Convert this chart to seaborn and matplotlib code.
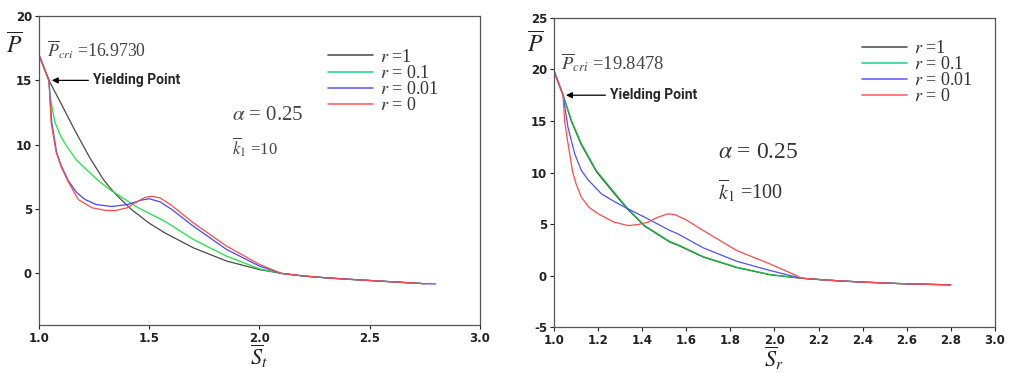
import numpy as np
import pandas as pd
import matplotlib.pyplot as plt
import seaborn as sns

# ── data ──────────────────────────────────────────────────────────
# left panel: alpha = 0.25, k1 = 10
head_l = [(1.0, 16.97), (1.045, 15.0)]
tail_l = [(2.1, 0.0), (2.2, -0.2), (2.3, -0.34), (2.4, -0.45), (2.5, -0.55),
          (2.6, -0.65), (2.7, -0.75), (2.75, -0.8)]
black_l = [(1.10, 13.2), (1.163, 11.1), (1.23, 9.0), (1.292, 7.3), (1.32, 6.7),
           (1.345, 6.2), (1.42, 4.96), (1.5, 3.9), (1.571, 3.15), (1.70, 1.99),
           (1.851, 0.96), (2.0, 0.3)]
green_l = [(1.05, 13.7), (1.073, 11.7), (1.10, 10.6), (1.126, 9.87), (1.17, 8.8),
           (1.216, 8.06), (1.27, 7.2), (1.322, 6.5), (1.345, 6.25), (1.45, 5.1),
           (1.549, 4.24), (1.571, 4.05), (1.70, 2.64), (1.851, 1.34), (2.0, 0.36)]
blue_l = [(1.058, 11.7), (1.08, 9.4), (1.10, 8.4), (1.133, 7.2), (1.17, 6.3),
          (1.209, 5.74), (1.26, 5.35), (1.33, 5.2), (1.40, 5.35), (1.466, 5.7),
          (1.50, 5.8), (1.549, 5.56), (1.60, 5.0), (1.70, 3.67), (1.851, 1.86),
          (2.0, 0.57)]
red_l = [(1.055, 11.7), (1.078, 9.4), (1.10, 8.3), (1.13, 7.2), (1.178, 5.74),
         (1.24, 5.1), (1.30, 4.9), (1.345, 4.88), (1.40, 5.1), (1.435, 5.48),
         (1.48, 5.9), (1.511, 6.0), (1.549, 5.87), (1.60, 5.3), (1.70, 3.93),
         (1.851, 2.12), (2.0, 0.70), (2.085, 0.1)]
blue_l_end = [(2.8, -0.82)]

# right panel: alpha = 0.25, k1 = 100
head_r = [(1.0, 19.85), (1.041, 17.5)]
tail_r = [(2.12, -0.25), (2.2, -0.38), (2.3, -0.52), (2.4, -0.63), (2.5, -0.72),
          (2.6, -0.8), (2.7, -0.85), (2.8, -0.9)]
black_r = [(1.08, 14.9), (1.124, 12.7), (1.192, 10.1), (1.222, 9.3), (1.28, 7.8),
           (1.336, 6.4), (1.411, 4.8), (1.526, 3.25), (1.562, 2.95), (1.677, 1.8),
           (1.829, 0.78), (1.98, 0.08)]
green_r = [(1.08, 15.0), (1.124, 12.8), (1.192, 10.2), (1.222, 9.4), (1.28, 7.9),
           (1.336, 6.47), (1.411, 4.85), (1.526, 3.3), (1.562, 3.0), (1.677, 1.84),
           (1.829, 0.81), (1.98, 0.1)]
blue_r = [(1.063, 14.4), (1.094, 11.8), (1.124, 10.2), (1.154, 9.3), (1.215, 7.93),
          (1.28, 7.1), (1.336, 6.47), (1.426, 5.5), (1.526, 4.37), (1.562, 4.05),
          (1.677, 2.69), (1.829, 1.39), (1.98, 0.49)]
red_r = [(1.048, 15.0), (1.06, 13.3), (1.071, 11.8), (1.085, 10.0), (1.10, 8.9),
         (1.124, 7.6), (1.16, 6.6), (1.2, 6.0), (1.27, 5.2), (1.336, 4.85),
         (1.38, 4.95), (1.426, 5.18), (1.47, 5.65), (1.517, 6.0), (1.55, 5.9),
         (1.6, 5.4), (1.677, 4.37), (1.829, 2.43), (1.98, 1.13), (2.10, 0.0)]

labels = [r"$r$ =1", r"$r$ = 0.1", r"$r$ = 0.01", r"$r$ = 0"]
colors_l = ["#4a4a4a", "#19e63c", "#4646ff", "#ff4a4a"]
colors_r = ["#333333", "#12c83c", "#5050ff", "#ff4a4a"]
legend_colors = ["#555555", "#22d890", "#6464ff", "#ff6464"]


def build(head, body, tail):
    rows = []
    for lab, pts in zip(labels, body):
        for x, y in head + pts + tail:
            rows.append({"S": x, "P": y, "r": lab})
    return pd.DataFrame(rows)


df_l = build(head_l, [black_l, green_l, blue_l, red_l], tail_l)
df_l = pd.concat([df_l, pd.DataFrame([{"S": x, "P": y, "r": labels[2]} for x, y in blue_l_end])])
df_r = build(head_r, [black_r, green_r, blue_r, red_r], tail_r)

# ── styling ───────────────────────────────────────────────────────
sns.set_style("ticks")
plt.rcParams["mathtext.fontset"] = "stix"
plt.rcParams["font.family"] = ["Liberation Serif", "DejaVu Serif"]

fig = plt.figure(figsize=(10.11, 3.73), dpi=100)
ax1 = fig.add_axes([0.0386, 0.129, 0.436, 0.828])
ax2 = fig.add_axes([0.548, 0.123, 0.436, 0.829])

panels = [
    (ax1, df_l, colors_l, (-4, 20), [0, 5, 10, 15, 20], [1.0, 1.5, 2.0, 2.5, 3.0]),
    (ax2, df_r, colors_r, (-5, 25), [-5, 0, 5, 10, 15, 20, 25],
     [1.0, 1.2, 1.4, 1.6, 1.8, 2.0, 2.2, 2.4, 2.6, 2.8, 3.0]),
]

for ax, df, cols, ylim, yt, xt in panels:
    sns.lineplot(data=df, x="S", y="P", hue="r", hue_order=labels,
                 palette=dict(zip(labels, cols)), estimator=None, sort=False,
                 lw=0.9, ax=ax)
    ax.set_xlim(1.0, 3.0)
    ax.set_ylim(*ylim)
    ax.set_xticks(xt)
    ax.set_yticks(yt)
    ax.set_xticklabels([f"{v:.1f}" for v in xt], fontsize=8.5, fontweight="bold",
                       family="DejaVu Sans")
    ax.set_yticklabels([str(v) for v in yt], fontsize=8.5, fontweight="bold",
                       family="DejaVu Sans")
    ax.tick_params(direction="out", length=3, width=0.8, pad=2, colors="#222222")
    for sp in ax.spines.values():
        sp.set_visible(True)
        sp.set_color("#555555")
        sp.set_linewidth(0.9)
    ax.set_ylabel("")
    ax.set_xlabel("")

# y labels and x labels
ax1.text(-0.057, 0.905, r"$\overline{P}$", transform=ax1.transAxes, fontsize=17,
         ha="center", va="center", color="#222222")
ax2.text(-0.043, 0.912, r"$\overline{P}$", transform=ax2.transAxes, fontsize=17,
         ha="center", va="center", color="#222222")
ax1.text(0.5, -0.1, r"$\overline{S}_t$", transform=ax1.transAxes, fontsize=16,
         ha="center", va="center", color="#222222")
ax2.text(0.5, -0.1, r"$\overline{S}_r$", transform=ax2.transAxes, fontsize=16,
         ha="center", va="center", color="#222222")

# annotations
ax1.text(1.036, 17.4, r"$\overline{P}_{cri}$ =16.9730", fontsize=12.8,
         color="#444444", va="center")
ax2.text(1.032, 20.7, r"$\overline{P}_{cri}$ =19.8478", fontsize=13.3,
         color="#444444", va="center")
ax1.text(1.875, 12.3, r"$\alpha$ = 0.25", fontsize=15, color="#444444", va="center")
ax1.text(1.875, 9.8, r"$\overline{k}_1$ =10", fontsize=12, color="#444444", va="center")
ax2.text(1.744, 11.9, r"$\alpha$ = 0.25", fontsize=17, color="#333333", va="center")
ax2.text(1.744, 8.25, r"$\overline{k}_1$ =100", fontsize=14.5, color="#333333", va="center")

arrow = dict(arrowstyle="-|>", color="black", lw=0.9, mutation_scale=9,
             shrinkA=1, shrinkB=0)
ax1.annotate("Yielding Point", xy=(1.058, 15.0), xytext=(1.245, 15.0),
             fontsize=10, fontweight="bold", family="Roboto", va="center",
             arrowprops=arrow)
ax2.annotate("Yielding Point", xy=(1.054, 17.5), xytext=(1.254, 17.5),
             fontsize=10, fontweight="bold", family="Roboto", va="center",
             arrowprops=arrow)

# legends
for ax, pos in [(ax1, (0.656, 0.894)), (ax2, (0.699, 0.928))]:
    h, l = ax.get_legend_handles_labels()
    leg = ax.legend(h, l, loc="upper left", bbox_to_anchor=pos, frameon=False,
                    fontsize=13, labelspacing=-0.05, handlelength=2.5,
                    handletextpad=0.35, borderaxespad=0, borderpad=0,
                    labelcolor="#333333")
    for line, c in zip(leg.get_lines(), legend_colors):
        line.set_color(c)
        line.set_linewidth(1.2)

plt.savefig("out.png", dpi=100)
print("saved")
